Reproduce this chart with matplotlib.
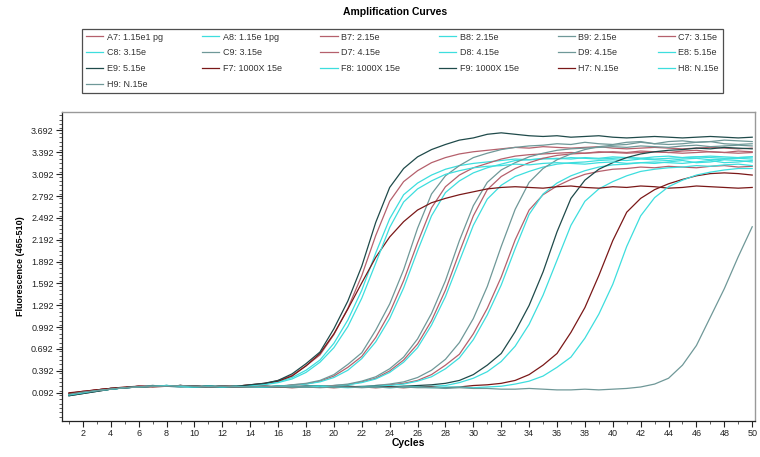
import matplotlib
matplotlib.use("Agg")
import matplotlib.pyplot as plt
from matplotlib.ticker import FixedLocator, MultipleLocator
import numpy as np

plt.rcParams['font.family'] = ['Liberation Sans', 'DejaVu Sans']

# ---------------- data (fluorescence per cycle, cycles 1..50) ----------------
a7 = [0.08,0.10,0.13,0.15,0.16,0.18,0.19,0.18,0.17,0.18,0.17,0.18,0.18,
      0.20,0.21,0.26,0.33,0.46,0.61,0.89,1.25,1.70,2.25,2.72,2.99,3.14,3.25,3.32,3.37,3.40,3.42,
      3.44,3.46,3.45,3.47,3.46,3.45,3.46,3.47,3.45,3.44,3.45,3.46,3.45,3.44,3.45,3.46,3.45,3.44,3.45]
a8 = [0.06,0.09,0.12,0.14,0.16,0.17,0.18,0.19,0.18,0.17,0.18,0.17,0.18,
      0.19,0.21,0.24,0.30,0.40,0.54,0.77,1.09,1.50,2.01,2.48,2.81,2.97,3.08,3.16,3.21,3.24,3.26,
      3.28,3.30,3.29,3.31,3.30,3.32,3.31,3.30,3.31,3.32,3.31,3.30,3.31,3.32,3.33,3.32,3.31,3.32,3.33]
b7 = [0.08,0.11,0.13,0.15,0.16,0.18,0.19,0.18,0.18,0.17,0.18,0.17,0.17,0.18,0.18,0.17,
      0.20,0.21,0.25,0.32,0.44,0.59,0.85,1.19,1.63,2.15,2.63,2.92,3.08,3.18,3.24,3.30,3.34,3.36,
      3.37,3.38,3.39,3.38,3.40,3.39,3.38,3.39,3.40,3.39,3.38,3.39,3.40,3.39,3.38,3.39]
b8 = [0.07,0.10,0.12,0.14,0.16,0.17,0.19,0.18,0.17,0.18,0.17,0.18,0.18,0.17,0.18,0.17,
      0.19,0.21,0.24,0.30,0.40,0.56,0.79,1.11,1.53,2.04,2.52,2.84,3.00,3.11,3.18,3.23,3.28,3.29,
      3.30,3.31,3.30,3.32,3.31,3.33,3.32,3.31,3.33,3.34,3.32,3.33,3.34,3.33,3.32,3.33]
b9 = [0.06,0.09,0.12,0.15,0.16,0.18,0.18,0.19,0.17,0.18,0.18,0.17,0.18,0.17,0.18,0.18,
      0.20,0.22,0.26,0.34,0.48,0.64,0.95,1.31,1.78,2.35,2.82,3.07,3.21,3.32,3.38,3.43,3.46,3.48,
      3.49,3.51,3.50,3.53,3.51,3.50,3.53,3.54,3.51,3.50,3.51,3.53,3.54,3.51,3.50,3.51]
c7 = [0.08,0.11,0.13,0.15,0.16,0.18,0.18,0.18,0.19,0.18,0.17,0.18,0.17,0.17,0.18,0.17,0.18,0.18,0.17,
      0.19,0.20,0.24,0.29,0.39,0.54,0.76,1.08,1.50,2.02,2.52,2.88,3.06,3.17,3.25,3.31,3.35,3.37,
      3.38,3.39,3.40,3.39,3.41,3.40,3.39,3.41,3.42,3.40,3.39,3.41,3.40]
c8 = [0.06,0.10,0.12,0.14,0.16,0.17,0.19,0.18,0.18,0.17,0.18,0.18,0.17,0.18,0.17,0.18,0.18,0.17,0.18,
      0.19,0.20,0.23,0.28,0.37,0.51,0.71,1.02,1.41,1.90,2.39,2.75,2.94,3.06,3.13,3.19,3.23,3.25,
      3.26,3.28,3.29,3.28,3.30,3.29,3.28,3.30,3.31,3.29,3.30,3.31,3.30]
c9 = [0.07,0.10,0.12,0.15,0.16,0.17,0.18,0.19,0.18,0.17,0.18,0.17,0.18,0.18,0.17,0.18,0.17,0.18,0.18,
      0.19,0.21,0.25,0.31,0.42,0.58,0.83,1.18,1.63,2.18,2.66,2.98,3.15,3.25,3.33,3.38,3.42,3.44,
      3.45,3.46,3.47,3.46,3.48,3.47,3.46,3.48,3.49,3.47,3.48,3.49,3.48]
d7 = [0.08,0.10,0.13,0.15,0.16,0.18,0.18,0.18,0.19,0.18,0.17,0.18,0.17,0.18,0.17,0.18,0.17,0.18,0.17,0.18,0.17,0.17,
      0.19,0.20,0.22,0.26,0.34,0.47,0.62,0.90,1.25,1.68,2.19,2.60,2.81,2.93,3.02,3.09,3.13,3.16,
      3.17,3.19,3.18,3.20,3.19,3.18,3.20,3.21,3.19,3.20]
d8 = [0.06,0.09,0.12,0.14,0.16,0.17,0.18,0.19,0.18,0.17,0.18,0.17,0.18,0.18,0.17,0.18,0.17,0.18,0.18,0.17,0.18,0.17,
      0.19,0.19,0.21,0.25,0.31,0.42,0.57,0.82,1.16,1.57,2.07,2.54,2.82,2.97,3.07,3.14,3.19,3.22,
      3.23,3.25,3.24,3.26,3.28,3.25,3.26,3.29,3.28,3.26]
d9 = [0.07,0.10,0.12,0.15,0.16,0.17,0.18,0.19,0.18,0.18,0.17,0.18,0.18,0.17,0.18,0.17,0.18,0.17,0.18,0.18,0.17,0.18,
      0.19,0.21,0.24,0.30,0.40,0.55,0.78,1.11,1.55,2.10,2.61,2.98,3.17,3.29,3.37,3.43,3.47,3.49,
      3.50,3.53,3.51,3.54,3.55,3.53,3.54,3.56,3.55,3.54]
e8 = [0.06,0.09,0.12,0.14,0.16,0.17,0.18,0.19,0.18,0.17,0.18,0.17,0.18,0.18,0.17,0.18,0.17,0.18,0.18,0.17,0.18,0.17,0.18,0.17,0.18,
      0.17,0.18,0.19,0.23,0.29,0.38,0.52,0.73,1.03,1.43,1.91,2.39,2.72,2.89,2.99,3.07,3.13,3.16,
      3.18,3.19,3.21,3.20,3.22,3.23,3.21]
e9 = [0.05,0.08,0.11,0.14,0.16,0.17,0.18,0.18,0.19,0.17,0.18,0.18,0.17,0.18,0.17,0.18,0.17,0.18,0.18,0.17,0.18,0.17,0.18,0.17,0.18,
      0.19,0.20,0.22,0.26,0.34,0.47,0.63,0.93,1.29,1.75,2.30,2.76,3.01,3.16,3.25,3.32,3.37,3.40,
      3.42,3.43,3.45,3.44,3.46,3.45,3.44]
f7 = [0.09,0.11,0.13,0.15,0.17,0.18,0.17,0.18,0.19,0.18,0.17,0.18,0.18,
      0.20,0.22,0.25,0.32,0.46,0.63,0.90,1.24,1.60,1.95,2.23,2.44,2.60,2.70,2.76,2.81,2.85,2.89,
      2.91,2.92,2.91,2.90,2.92,2.93,2.91,2.90,2.92,2.91,2.93,2.92,2.90,2.91,2.93,2.92,2.91,2.90,2.91]
f8 = [0.07,0.09,0.12,0.14,0.16,0.17,0.18,0.18,0.19,0.18,0.17,0.18,0.17,
      0.19,0.20,0.23,0.28,0.37,0.51,0.71,1.00,1.39,1.87,2.36,2.71,2.89,3.00,3.09,3.14,3.18,3.20,
      3.21,3.23,3.22,3.24,3.25,3.24,3.23,3.25,3.26,3.24,3.25,3.26,3.25,3.24,3.26,3.28,3.25,3.26,3.28]
f9 = [0.05,0.08,0.11,0.14,0.16,0.17,0.18,0.18,0.19,0.18,0.18,0.17,0.18,
      0.20,0.22,0.26,0.35,0.49,0.65,0.97,1.35,1.83,2.43,2.91,3.17,3.33,3.43,3.50,3.56,3.59,3.64,
      3.66,3.64,3.62,3.61,3.62,3.60,3.61,3.62,3.60,3.59,3.60,3.61,3.60,3.59,3.60,3.61,3.60,3.59,3.60]
h7 = [0.08,0.10,0.13,0.15,0.16,0.17,0.18,0.18,0.19,0.18,0.17,0.18,0.17,0.17,0.18,0.17,0.16,0.17,0.17,0.16,
      0.17,0.17,0.16,0.17,0.16,0.17,0.17,0.16,0.17,
      0.19,0.20,0.22,0.26,0.34,0.47,0.63,0.92,1.26,1.70,2.18,2.57,2.76,2.88,2.96,3.02,3.07,
      3.10,3.11,3.10,3.08]
h8 = [0.06,0.09,0.12,0.14,0.16,0.17,0.18,0.19,0.18,0.17,0.18,0.17,0.18,0.17,0.17,0.18,0.17,0.17,0.18,0.17,
      0.16,0.17,0.17,0.16,0.17,0.17,0.16,0.17,0.17,0.16,
      0.17,0.18,0.21,0.25,0.32,0.44,0.58,0.84,1.17,1.58,2.10,2.52,2.77,2.92,3.01,3.08,3.12,
      3.15,3.17,3.17]
h9 = [0.07,0.10,0.12,0.14,0.16,0.17,0.18,0.18,0.19,0.18,0.17,0.18,0.17,0.17,0.18,0.17,0.17,0.17,0.16,0.17,
      0.17,0.16,0.17,0.16,0.17,0.16,0.16,0.15,0.16,0.15,0.15,0.14,0.14,0.15,0.14,0.13,0.13,0.14,0.13,0.14,
      0.15,0.17,0.21,0.29,0.47,0.74,1.13,1.52,1.96,2.37]

labels = ["A7: 1.15e1 pg", "A8: 1.15e 1pg", "B7: 2.15e", "B8: 2.15e", "B9: 2.15e", "C7: 3.15e",
          "C8: 3.15e", "C9: 3.15e", "D7: 4.15e", "D8: 4.15e", "D9: 4.15e", "E8: 5.15e",
          "E9: 5.15e", "F7: 1000X 15e", "F8: 1000X 15e", "F9: 1000X 15e", "H7: N.15e", "H8: N.15e",
          "H9: N.15e"]
values = [a7, a8, b7, b8, b9, c7, c8, c9, d7, d8, d9, e8, e9, f7, f8, f9, h7, h8, h9]

RED, CYAN, GREY, DTEAL, DRED = '#b5606c', '#3ddede', '#6f9898', '#1f4a4a', '#7a1818'
colors = [RED, CYAN, RED, CYAN, GREY, RED, CYAN, GREY, RED, CYAN, GREY, CYAN,
          DTEAL, DRED, CYAN, DTEAL, DRED, CYAN, GREY]

x_ticks = list(range(2, 51, 2))
y_ticks = [0.092, 0.392, 0.692, 0.992, 1.292, 1.592, 1.892, 2.192, 2.492, 2.792, 3.092, 3.392, 3.692]

# ---------------- figure ----------------
W, H = 760, 457
fig = plt.figure(figsize=(W / 100, H / 100), dpi=100)
fig.patch.set_facecolor('white')
L, R, T, B = 62, 755, 112, 420.7
ax = fig.add_axes([L / W, 1 - B / H, (R - L) / W, (B - T) / H])

handles = []
for lab, vals, col in zip(labels, values, colors):
    cyc = np.arange(1, len(vals) + 1)
    h, = ax.plot(cyc, vals, color=col, lw=0.9, label=lab)
    handles.append(h)

ax.set_xlim(0.5, 50.2)
ax.set_ylim(-0.293, 3.946)
ax.xaxis.set_major_locator(FixedLocator(x_ticks))
ax.xaxis.set_minor_locator(MultipleLocator(1))
ax.yaxis.set_major_locator(FixedLocator(y_ticks))
ax.yaxis.set_minor_locator(MultipleLocator(0.06))
ax.set_xticklabels([str(t) for t in x_ticks])
ax.set_yticklabels(["%.3f" % t for t in y_ticks])
ax.tick_params(which='major', direction='out', length=4, width=0.8, labelsize=6.5,
               colors='#222222', pad=2)
ax.tick_params(which='minor', direction='out', length=2, width=0.6, colors='#444444')
for s in ['top', 'right']:
    ax.spines[s].set_color('#999999')
    ax.spines[s].set_linewidth(1.0)
for s in ['left', 'bottom']:
    ax.spines[s].set_color('#222222')
    ax.spines[s].set_linewidth(0.9)

ax.set_xlabel("Cycles", fontsize=7.5, fontweight='bold', labelpad=0)
ax.set_ylabel("Fluorescence (465-510)", fontsize=6.5, fontweight='bold', labelpad=4)

fig.text(395 / W, 1 - 12 / H, "Amplification Curves", fontsize=7.5, fontweight='bold',
         ha='center', va='center')

# legend filled row by row (6 columns)
ncol = 6
nrow = int(np.ceil(len(handles) / ncol))
order = []
for c in range(ncol):
    for r in range(nrow):
        i = r * ncol + c
        if i < len(handles):
            order.append(i)
lx0, lx1, ly0, ly1 = 82, 723, 27, 93
leg = fig.legend([handles[i] for i in order], [labels[i] for i in order],
                 ncol=ncol, loc='lower left', mode='expand',
                 bbox_to_anchor=(lx0 / W, 1 - ly1 / H, (lx1 - lx0) / W, (ly1 - ly0) / H),
                 borderaxespad=0, fontsize=6.5, frameon=True, fancybox=False,
                 handlelength=1.9, handletextpad=0.4, labelspacing=0.75,
                 borderpad=0.45, columnspacing=0.5)
leg.get_frame().set_edgecolor('#222222')
leg.get_frame().set_linewidth(0.9)
for t in leg.get_texts():
    t.set_color('#333333')

fig.savefig("out.png", dpi=100, facecolor='white')
